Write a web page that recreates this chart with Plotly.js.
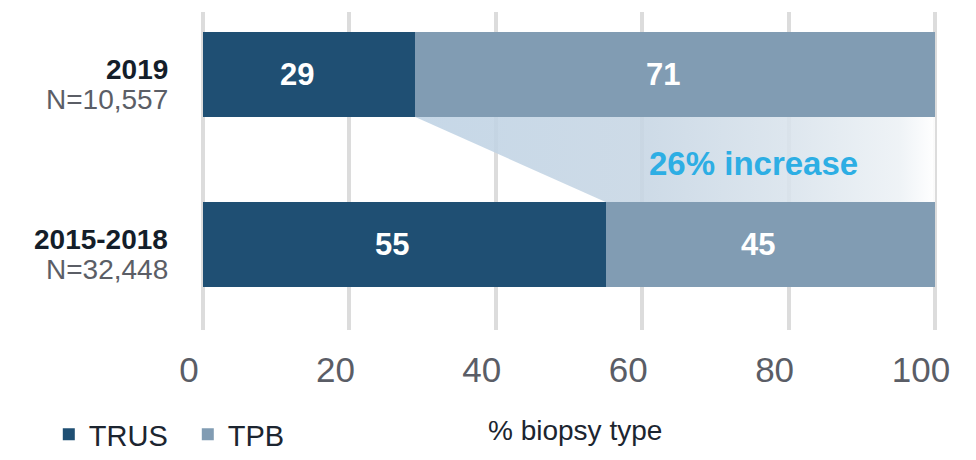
<!DOCTYPE html>
<html>
<head>
<meta charset="utf-8">
<script src="https://cdn.plot.ly/plotly-3.0.1.min.js"></script>
<style>
  html, body { margin: 0; padding: 0; background: #fff; }
  #chart { width: 976px; height: 460px; }
</style>
</head>
<body>
<div id="chart"></div>
<script>
// ---- data ----
const categories = ['2015-2018', '2019'];
const sampleSizes = ['N=32,448', 'N=10,557'];
const trus = [55, 29];
const tpb = [45, 71];
const seriesNames = ['TRUS', 'TPB'];
const xTicks = [0, 20, 40, 60, 80, 100];
const xTitle = '% biopsy type';
const increaseLabel = '26% increase';

// ---- styles ----
const colTRUS = '#1f4f73';
const colTPB = '#819cb3';
const barWidth = 0.5;
const yIdx = categories.map((_, i) => i);
const FONT = 'Liberation Sans, Arial, sans-serif';

const traces = [
  {
    type: 'bar', orientation: 'h', name: seriesNames[0],
    y: yIdx, x: trus, width: barWidth,
    marker: { color: colTRUS, line: { width: 0 } },
    hoverinfo: 'skip'
  },
  {
    type: 'bar', orientation: 'h', name: seriesNames[1],
    y: yIdx, x: tpb, width: barWidth,
    marker: { color: colTPB, line: { width: 0 } },
    hoverinfo: 'skip'
  },
  {
    // connector polygon between the TRUS ends of the two bars
    type: 'scatter', mode: 'none', showlegend: false, hoverinfo: 'skip',
    x: [trus[1], trus[1] + tpb[1], trus[0] + tpb[0], trus[0]],
    y: [1 - barWidth / 2, 1 - barWidth / 2, 0 + barWidth / 2, 0 + barWidth / 2],
    fill: 'toself',
    fillgradient: {
      type: 'horizontal',
      start: trus[1], stop: trus[1] + tpb[1],
      colorscale: [
        [0, 'rgba(190,210,228,0.88)'],
        [0.45, 'rgba(199,214,228,0.88)'],
        [0.72, 'rgba(217,227,236,0.88)'],
        [0.93, 'rgba(236,241,245,0.88)'],
        [1, 'rgba(255,255,255,0.88)']
      ]
    }
  }
];

const annotations = [];
yIdx.forEach(i => {
  annotations.push({
    x: trus[i] / 2, y: i, xref: 'x', yref: 'y', text: '<b>' + trus[i] + '</b>',
    showarrow: false, xshift: -12,
    font: { family: FONT, size: 31, color: '#ffffff' }
  });
  annotations.push({
    x: trus[i] + tpb[i] / 2, y: i, xref: 'x', yref: 'y', text: '<b>' + tpb[i] + '</b>',
    showarrow: false, xshift: -12,
    font: { family: FONT, size: 31, color: '#ffffff' }
  });
  // category labels (left of plot)
  annotations.push({
    x: 0, y: i, xref: 'paper', yref: 'y', text: '<b>' + categories[i] + '</b>',
    showarrow: false, xanchor: 'right', xshift: -30, yshift: 5,
    font: { family: FONT, size: 28, color: '#141e2a' }
  });
  annotations.push({
    x: 0, y: i, xref: 'paper', yref: 'y', text: sampleSizes[i],
    showarrow: false, xanchor: 'right', xshift: -30, yshift: -25,
    font: { family: FONT, size: 28, color: '#5b5e66' }
  });
});
annotations.push({
  x: 75.2, y: 0.474, xref: 'x', yref: 'y', text: '<b>' + increaseLabel + '</b>',
  showarrow: false,
  font: { family: FONT, size: 33, color: '#2daee4' }
});
// x-axis title
annotations.push({
  x: 0.508, y: -0.3145, xref: 'paper', yref: 'paper', text: xTitle,
  showarrow: false, xanchor: 'center', yanchor: 'middle',
  font: { family: FONT, size: 28, color: '#1c2530' }
});

const layout = {
  width: 976, height: 460,
  margin: { l: 200, r: 38, t: 12, b: 130, pad: 0 },
  paper_bgcolor: '#ffffff', plot_bgcolor: '#ffffff',
  barmode: 'stack',
  hovermode: false,
  font: { family: FONT },
  xaxis: {
    range: [-0.41, 100.41], tickvals: xTicks, ticktext: xTicks.map(String),
    showgrid: true, gridcolor: '#dcdcdc', gridwidth: 4,
    zeroline: false, showline: false, ticks: '',
    tickfont: { family: 'Liberation Sans Narrow, Liberation Sans, Arial, sans-serif', size: 35, color: '#5a5d66' },
    ticklabelstandoff: 16, ticklabelshift: -14,
    automargin: false,
    fixedrange: true
  },
  yaxis: {
    range: [-0.503, 1.368], tickvals: yIdx, ticktext: categories.map(() => ''),
    showgrid: false, zeroline: false, showline: false, ticks: '', showticklabels: false,
    automargin: false,
    fixedrange: true
  },
  showlegend: true,
  legend: {
    orientation: 'h', xref: 'container', yref: 'container',
    x: 0.05, xanchor: 'left', y: -0.02, yanchor: 'bottom',
    entrywidth: 94, entrywidthmode: 'pixels',
    font: { family: FONT, size: 29, color: '#1c2530' },
    traceorder: 'normal', bgcolor: 'rgba(0,0,0,0)', itemclick: false, itemdoubleclick: false
  },
  annotations: annotations
};

Plotly.newPlot('chart', traces, layout, { displayModeBar: false, staticPlot: true });
</script>
</body>
</html>
